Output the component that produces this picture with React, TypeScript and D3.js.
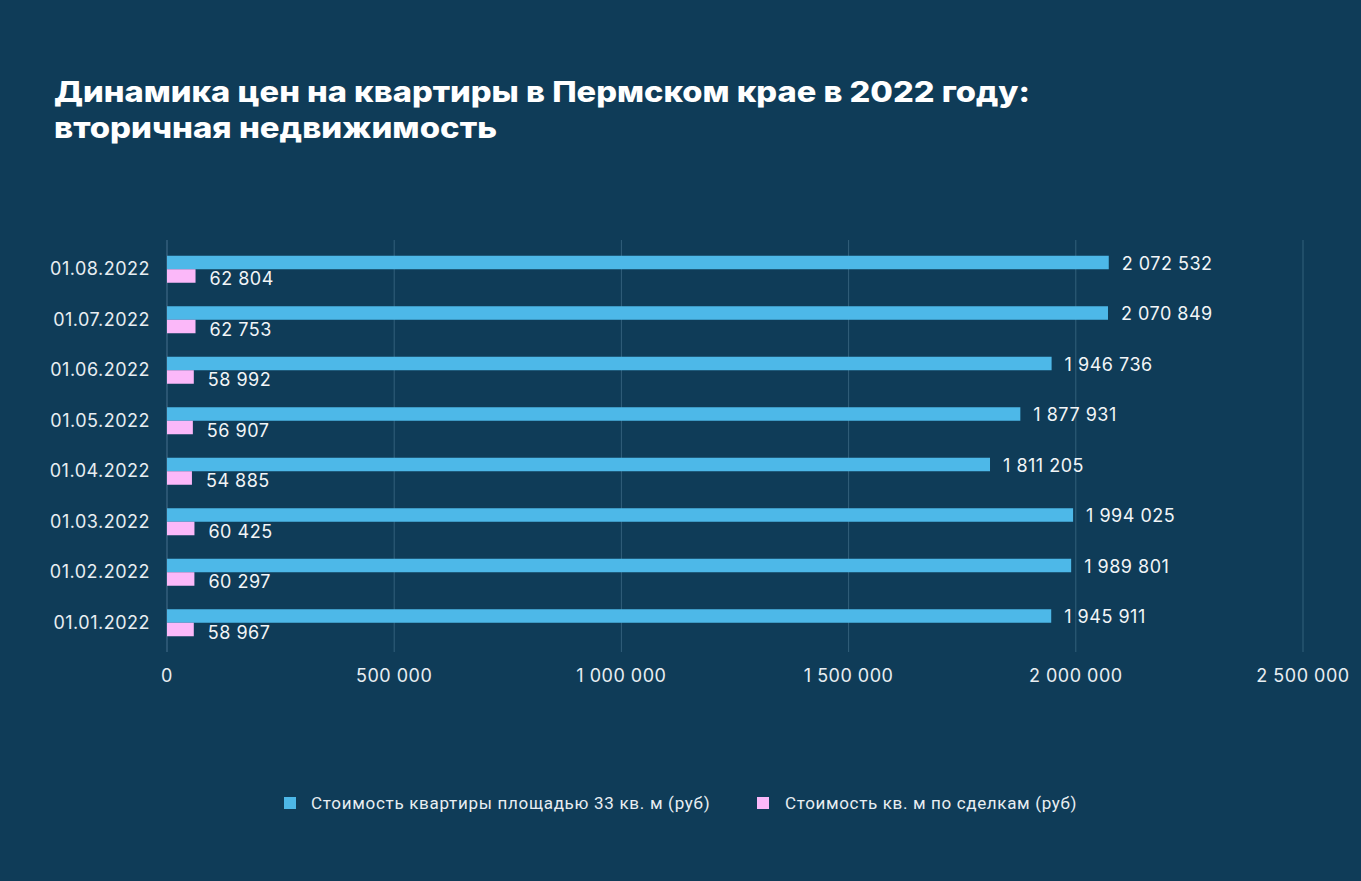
import React from "react";
import * as d3 from "d3";

const categories = ["01.08.2022", "01.07.2022", "01.06.2022", "01.05.2022", "01.04.2022", "01.03.2022", "01.02.2022", "01.01.2022"];
const flatPrice = [2072532, 2070849, 1946736, 1877931, 1811205, 1994025, 1989801, 1945911];
const sqmPrice = [62804, 62753, 58992, 56907, 54885, 60425, 60297, 58967];
const xTicks = [0, 500000, 1000000, 1500000, 2000000, 2500000];
const seriesNames = ["Стоимость квартиры площадью 33 кв. м (руб)", "Стоимость кв. м по сделкам (руб)"];

const W = 1361, H = 881;
const BG = "#0f3c58";
const BLUE = "#4db8e8";
const PINK = "#fbb8f9";
const FONT = "Inter, 'Open Sans', sans-serif";

const fmt = (v: number) => d3.format(",")(v).replace(/,/g, " ");

export default function App() {
  const x = d3.scaleLinear().domain([0, 2500000]).range([167, 1303]);
  const y = d3.scaleBand<string>().domain(categories).range([244, 648]).paddingInner(0.46).paddingOuter(0.23);
  const bh = 13.5;
  const lbl = { fontFamily: FONT, fontSize: 18, letterSpacing: 0.5 };
  return (
    <svg width={W} height={H} style={{ position: "absolute", left: 0, top: 0 }}>
      <rect width={W} height={H} fill={BG} />
      <text x={54} y={102} fill="#fff" fontFamily={FONT} fontWeight={800} fontSize={28.5} textLength={976} lengthAdjust="spacingAndGlyphs">
        Динамика цен на квартиры в Пермском крае в 2022 году:
      </text>
      <text x={54} y={138} fill="#fff" fontFamily={FONT} fontWeight={800} fontSize={28.5} textLength={443} lengthAdjust="spacingAndGlyphs">
        вторичная недвижимость
      </text>
      {xTicks.map((t) => (
        <g key={t}>
          {t > 0 && <line x1={x(t)} x2={x(t)} y1={240} y2={652} stroke="#33607b" strokeWidth={1} />}
          <text x={x(t)} y={682} fill="#e8eef2" {...lbl} textAnchor="middle">
            {fmt(t)}
          </text>
        </g>
      ))}
      <line x1={167} x2={167} y1={240} y2={652} stroke="#2a5572" strokeWidth={2} />
      {categories.map((c, i) => {
        const yc = (y(c) as number) + y.bandwidth() / 2;
        return (
          <g key={c}>
            <text x={150} y={yc + 6} fill="#e8eef2" {...lbl} textAnchor="end">{c}</text>
            <rect x={x(0)} y={yc - bh} width={x(flatPrice[i]) - x(0)} height={bh} fill={BLUE} />
            <rect x={x(0)} y={yc} width={x(sqmPrice[i]) - x(0)} height={bh} fill={PINK} />
            <text x={x(flatPrice[i]) + 13} y={yc - bh / 2 + 7} fill="#f2f5f7" {...lbl}>{fmt(flatPrice[i])}</text>
            <text x={x(sqmPrice[i]) + 14} y={yc + bh / 2 + 9} fill="#f2f5f7" {...lbl}>{fmt(sqmPrice[i])}</text>
          </g>
        );
      })}
      <rect x={284} y={797} width={12} height={12} fill={BLUE} />
      <text x={311} y={809} fill="#e8eef2" fontFamily="'Roboto', sans-serif" fontSize={17} letterSpacing={0.7}>{seriesNames[0]}</text>
      <rect x={757} y={797} width={12} height={12} fill={PINK} />
      <text x={785} y={809} fill="#e8eef2" fontFamily="'Roboto', sans-serif" fontSize={17} letterSpacing={0.65}>{seriesNames[1]}</text>
    </svg>
  );
}
